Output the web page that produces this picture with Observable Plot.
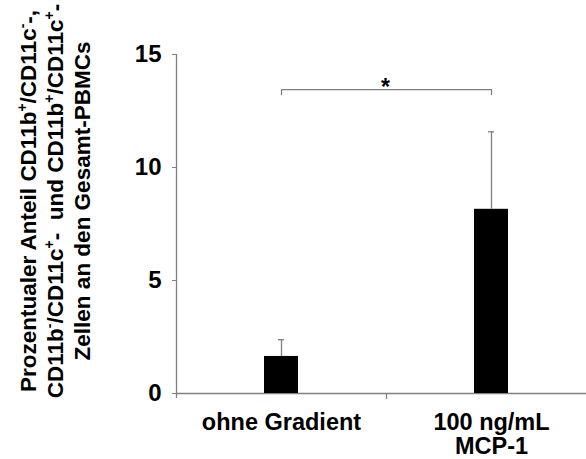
<!DOCTYPE html>
<html><head><meta charset="utf-8">
<script src="https://cdn.jsdelivr.net/npm/d3@7"></script>
<script src="https://cdn.jsdelivr.net/npm/@observablehq/plot@0.6"></script>
<style>body{margin:0;background:#fff;}</style>
</head><body><div id="chart"></div>
<script>
const categories = ["ohne Gradient", "100 ng/mL\nMCP-1"];
const means = [1.64, 8.15];
const errors = [0.74, 3.43];
const yTicks = [0, 5, 10, 15];
const bracketY = 13.45;
const bracketDrop = 0.22;
const sigLabel = "*";
// title lines: [text, isSuperscript]
const titleLine1 = [["Prozentualer Anteil CD11b",0],["+",1],["/CD11c",0],["-",1],["-,",0]];
const titleLine2 = [["CD11b",0],["-",1],["/CD11c",0],["+",1],["-  und CD11b",0],["+",1],["/CD11c",0],["+",1],["-",0]];
const titleLine3 = [["Zellen an den Gesamt-PBMCs",0]];

const gray = "#808080";
const font = "'Liberation Sans', Arial, Helvetica, sans-serif";
const data = categories.map((c, i) => ({cat: c, mean: means[i], top: means[i] + errors[i]}));
const bracket = [
  {cat: categories[0], y: bracketY - bracketDrop},
  {cat: categories[0], y: bracketY},
  {cat: categories[1], y: bracketY},
  {cat: categories[1], y: bracketY - bracketDrop}
];

const chart = Plot.plot({
  width: 586, height: 459,
  marginTop: 54, marginBottom: 66, marginLeft: 176, marginRight: -10,
  style: {fontFamily: font, background: "#fff", color: "#000"},
  x: {domain: categories, padding: 0, label: null},
  y: {domain: [0, 15], label: null},
  marks: [
    Plot.ruleX([categories[0]], {x: d => d, dx: -105, y1: 15, y2: 0, insetBottom: -5, stroke: gray, strokeWidth: 1.3}),
    Plot.ruleY([0], {stroke: gray, strokeWidth: 1.5}),
    Plot.ruleX([categories[0]], {x: d => d, dx: 105, y1: 0, y2: 0, insetBottom: -6, stroke: gray, strokeWidth: 1.3}),
    Plot.axisY({ticks: yTicks, tickSize: 4, tickPadding: 11, fontSize: 24, fontWeight: "bold", stroke: gray, fill: "#000", label: null}),
    Plot.axisX({tickSize: 0, tickPadding: 20, fontSize: 23.5, fontWeight: "bold", lineHeight: 1.0, fill: "#000", label: null}),
    Plot.barY(data, {x: "cat", y: "mean", fill: "#000", insetLeft: 88, insetRight: 88}),
    Plot.ruleX(data, {x: "cat", y1: "mean", y2: "top", stroke: gray, strokeWidth: 1.3}),
    Plot.tickY(data, {x: "cat", y: "top", insetLeft: 102, insetRight: 102, stroke: gray, strokeWidth: 1.3}),
    Plot.line(bracket, {x: "cat", y: "y", stroke: gray, strokeWidth: 1.3}),
    Plot.text([{cat: categories[0], y: bracketY, t: sigLabel}], {x: "cat", y: "y", text: "t", dx: 104, dy: 5, lineAnchor: "bottom", fontSize: 23, fontWeight: "bold", fill: "#000"})
  ]
});
document.getElementById("chart").appendChild(chart);

// rotated multi-line y-axis title with superscripts
const svg = d3.select(chart);
const title = svg.append("text")
  .attr("transform", "translate(0,201) rotate(-90)")
  .attr("text-anchor", "middle")
  .attr("font-family", font)
  .attr("font-size", 22.5)
  .attr("font-weight", "bold")
  .attr("fill", "#000")
  .style("white-space", "pre");
const baselines = [36, 63, 90];
[titleLine1, titleLine2, titleLine3].forEach((segs, li) => {
  let shifted = false;
  segs.forEach(([txt, sup], si) => {
    const ts = title.append("tspan").text(txt);
    if (si === 0) ts.attr("x", 0).attr("y", baselines[li]);
    if (sup) { ts.attr("font-size", 14); if (!shifted) { ts.attr("dy", -9); shifted = true; } }
    else if (shifted) { ts.attr("dy", 9); shifted = false; }
  });
});
</script>
</body></html>
